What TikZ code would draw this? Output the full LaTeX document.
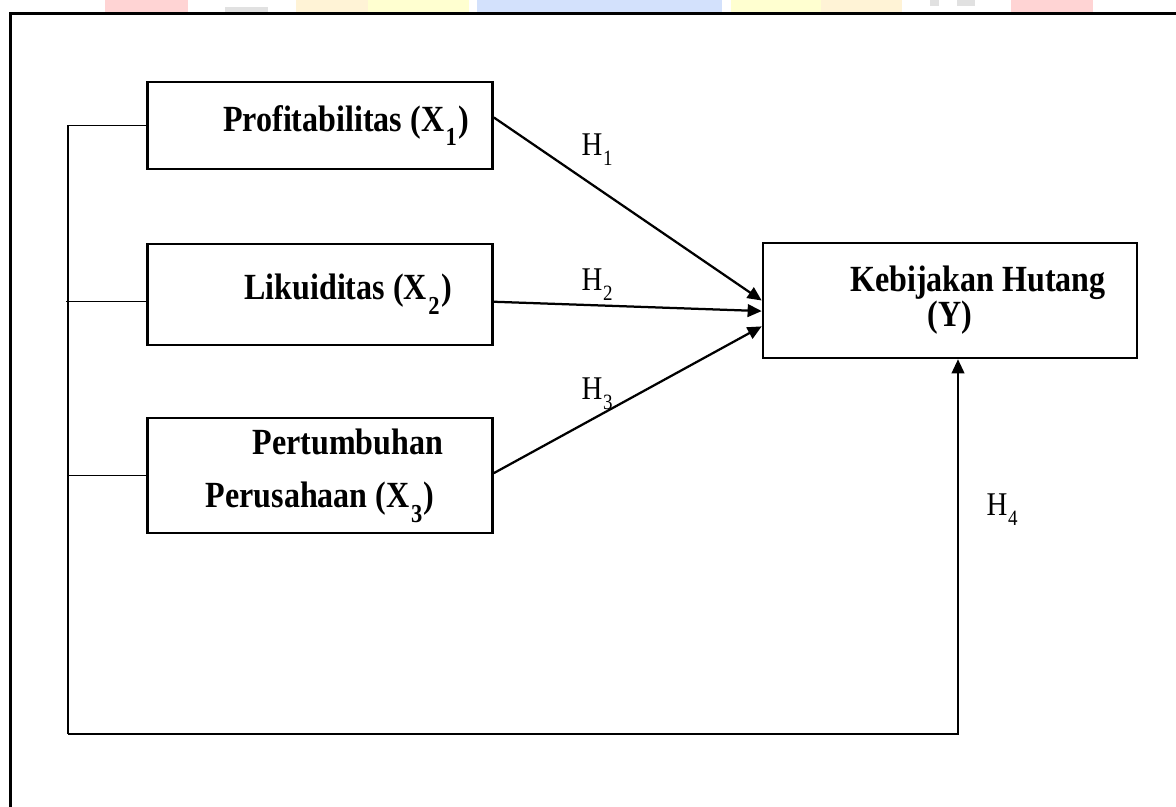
\documentclass[tikz,border=0pt]{standalone}
\usepackage{graphicx}
\usepackage{fontspec}
\setmainfont{Liberation Serif}
\usetikzlibrary{arrows.meta, calc, positioning}

\definecolor{wmpink}{RGB}{255,212,212}
\definecolor{wmpeach}{RGB}{255,243,214}
\definecolor{wmyellow}{RGB}{255,255,208}
\definecolor{wmblue}{RGB}{211,225,252}
\definecolor{wmgray}{RGB}{225,225,225}

\newcommand{\tallline}[1]{\scalebox{1}[1.15]{#1}}
\newcommand{\subx}[1]{\kern1pt\raisebox{-0.4em}{\fontsize{16}{16}\selectfont #1}\kern1pt}
\newcommand{\subh}[1]{\kern0.5pt\raisebox{-0.3em}{\fontsize{13.5}{13.5}\selectfont #1}}

\begin{document}
\begin{tikzpicture}[x=0.025cm, y=-0.025cm,
  varbox/.style={draw, line width=1.8pt, inner sep=0pt, align=center,
    minimum width=8.625cm, font=\fontsize{22.8}{37.7}\selectfont\bfseries},
  hyp/.style={line width=1.6pt, -{Triangle[length=10pt,width=9pt]}},
  link/.style={line width=1pt},
  hlabel/.style={font=\fontsize{20.5}{24}\selectfont}]
\useasboundingbox (0,0) rectangle (1176,807);

% strip at the top
\fill[wmpink] (105,0) rectangle (188,12);
\fill[wmgray] (225,7) rectangle (268,12);
\fill[wmpeach] (296,0) rectangle (368,12);
\fill[wmyellow] (368,0) rectangle (469,12);
\fill[wmblue] (477,0) rectangle (722,12);
\fill[wmyellow] (731,0) rectangle (821,12);
\fill[wmpeach] (821,0) rectangle (902,12);
\fill[wmgray] (930,0) rectangle (939,6);
\fill[wmgray] (957,0) rectangle (975,6);
\fill[wmpink] (1011,0) rectangle (1093,12);

% frame
\draw[line width=1.5pt] (10.5,807) -- (10.5,13.5) -- (1176,13.5);

% variables
\node[varbox, minimum height=2.175cm] (prof) at (320,125.5)
  {\hspace*{1.3cm}\tallline{Profitabilitas (X\subx{1})}};
\node[varbox, minimum height=2.525cm] (liq) at (320,294.5)
  {\hspace*{1.4cm}\tallline{Likuiditas (X\subx{2})}};
\node[varbox, minimum height=2.875cm] (pert) at (320,475.5)
  {\hspace*{1.4cm}\tallline{Pertumbuhan}\\\tallline{Perusahaan (X\subx{3})}};
\node[varbox, minimum width=9.35cm, minimum height=2.875cm,
  font=\fontsize{22.8}{22.8}\selectfont\bfseries] (keb) at (950,300.5)
  {\hspace*{1.4cm}\tallline{Kebijakan Hutang}\\\tallline{(Y)}};

% hypotheses
\draw[hyp] ($(prof.north east)!0.41!(prof.south east)$) -- ($(keb.north west)!0.50!(keb.south west)$);
\draw[hyp] ($(liq.north east)!0.57!(liq.south east)$) -- ($(keb.north west)!0.59!(keb.south west)$);
\draw[hyp] ($(pert.north east)!0.48!(pert.south east)$) -- ($(keb.north west)!0.72!(keb.south west)$);

% simultaneous
\coordinate (spine) at (68,734);
\draw[link] (prof.west) -| (spine);
\draw[link] ($(liq.north west)!0.57!(liq.south west)$) -- ++(-80,0);
\draw[link] (pert.west) -- (pert.west -| spine);
\draw[hyp, line width=1.4pt] (spine) -| ($(keb.south)+(8,0)$);

\node[hlabel] (h1) at (597,150) {\tallline{H\subh{1}}};
\node[hlabel] (h2) at (597,285) {\tallline{H\subh{2}}};
\node[hlabel] (h3) at (597,394) {\tallline{H\subh{3}}};
\node[hlabel] (h4) at (1002,510) {\tallline{H\subh{4}}};
\end{tikzpicture}
\end{document}
